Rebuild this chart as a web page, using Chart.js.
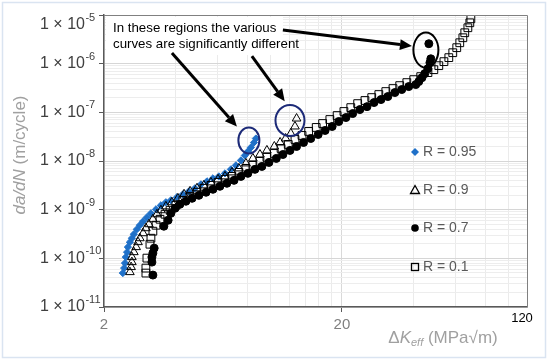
<!DOCTYPE html>
<html>
<head>
<meta charset="utf-8">
<script src="https://cdn.jsdelivr.net/npm/chart.js@4.4.1/dist/chart.umd.min.js"></script>
<style>
  body { margin: 0; background: #fff; }
  #wrap { width: 550px; height: 362px; position: relative; }
</style>
</head>
<body>
<div id="wrap"><canvas id="c"></canvas></div>
<script>
const FONT = '"Liberation Sans", Arial, sans-serif';

// series labels
const seriesNames = ["R = 0.95", "R = 0.9", "R = 0.7", "R = 0.1"];

// R = 0.95 : dK_eff (MPa√m) and da/dN (m/cycle)
const dk95 = [2.40,2.43,2.45,2.47,2.50,2.52,2.57,2.62,2.67,2.75,2.83,2.92,3.03,3.15,3.31,3.47,3.64,3.82,4.05,4.29,4.55,4.82,5.11,5.42,5.74,6.08,6.45,6.83,7.17,7.53,7.82,8.05,8.29,8.54,8.70];
const da95 = [4.98e-11,6.3e-11,7.98e-11,1.06e-10,1.34e-10,1.70e-10,2.15e-10,2.59e-10,3.13e-10,3.96e-10,4.79e-10,5.78e-10,6.98e-10,8.43e-10,1.02e-9,1.23e-9,1.42e-9,1.56e-9,1.80e-9,2.07e-9,2.38e-9,2.75e-9,3.31e-9,3.82e-9,4.40e-9,4.83e-9,5.57e-9,6.73e-9,8.13e-9,1.03e-8,1.30e-8,1.57e-8,1.90e-8,2.40e-8,2.90e-8];

// R = 0.9
const dk90 = [2.57,2.60,2.62,2.62,2.67,2.73,2.78,2.83,2.92,3.00,3.09,3.21,3.34,3.47,3.64,3.86,4.09,4.34,4.60,4.92,5.26,5.63,6.03,6.45,6.90,7.38,7.90,8.45,9.05,9.68,10.4,11.0,11.6,12.2,12.7,12.9];
const da90 = [5.21e-11,6.61e-11,8.36e-11,1.06e-10,1.34e-10,1.70e-10,2.15e-10,2.59e-10,3.28e-10,4.16e-10,5.02e-10,6.35e-10,8.05e-10,9.73e-10,1.17e-9,1.42e-9,1.71e-9,2.07e-9,2.38e-9,2.75e-9,3.16e-9,3.64e-9,4.20e-9,4.83e-9,5.83e-9,7.05e-9,8.93e-9,1.13e-8,1.36e-8,1.65e-8,1.99e-8,2.40e-8,2.90e-8,3.68e-8,5.12e-8,7.46e-8];

// R = 0.7
const dk70 = [3.21,3.18,3.18,3.21,3.25,3.57,3.72,3.82,3.98,4.17,4.42,4.69,5.01,5.37,5.74,6.14,6.57,7.04,7.53,8.05,8.62,9.22,9.87,10.6,11.3,12.1,12.9,13.8,14.8,15.9,17.0,18.2,19.4,20.8,22.2,23.8,25.5,27.3,29.2,31.2,33.4,35.7,38.2,40.9,42.1,43.4,44.6,46.0,46.9,47.3,46.4];
const da70 = [4.53e-11,8.36e-11,1.06e-10,1.28e-10,1.62e-10,4.57e-10,6.07e-10,8.43e-10,1.07e-9,1.29e-9,1.49e-9,1.71e-9,1.97e-9,2.28e-9,2.62e-9,3.02e-9,3.48e-9,4.00e-9,4.83e-9,5.57e-9,6.73e-9,7.74e-9,9.35e-9,1.13e-8,1.36e-8,1.65e-8,1.99e-8,2.40e-8,2.90e-8,3.51e-8,4.24e-8,5.12e-8,6.47e-8,7.81e-8,9.43e-8,1.14e-7,1.31e-7,1.59e-7,1.83e-7,2.11e-7,2.55e-7,2.94e-7,3.38e-7,3.72e-7,4.28e-7,5.16e-7,6.24e-7,7.91e-7,1.05e-6,1.26e-6,2.57e-6];

// R = 0.1
const dk10 = [3.00,3.00,3.03,3.12,3.15,3.21,3.31,3.44,3.61,3.79,4.01,4.29,4.60,4.92,5.26,5.63,6.03,6.45,6.90,7.38,7.90,8.45,9.05,9.68,10.4,11.1,11.9,12.7,13.6,14.5,15.6,16.6,17.8,19.1,20.4,21.8,23.3,25.0,26.7,28.6,30.6,32.8,35.0,37.5,40.1,42.9,46.0,48.7,51.1,53.7,56.3,58.5,60.8,62.6,64.5,65.7,67.7,69.0,69.7];
const da10 = [4.98e-11,6.3e-11,1.01e-10,1.95e-10,2.59e-10,3.61e-10,4.79e-10,6.35e-10,8.05e-10,9.73e-10,1.23e-9,1.56e-9,1.88e-9,2.28e-9,2.75e-9,3.16e-9,3.64e-9,4.20e-9,4.83e-9,5.83e-9,7.05e-9,8.13e-9,9.82e-9,1.19e-8,1.43e-8,1.81e-8,2.19e-8,2.77e-8,3.35e-8,4.05e-8,4.89e-8,5.89e-8,7.11e-8,8.59e-8,1.04e-7,1.25e-7,1.51e-7,1.75e-7,2.01e-7,2.32e-7,2.67e-7,3.08e-7,3.54e-7,4.08e-7,4.70e-7,5.42e-7,6.55e-7,7.53e-7,9.10e-7,1.10e-6,1.33e-6,1.68e-6,2.13e-6,2.69e-6,3.41e-6,4.32e-6,5.47e-6,6.92e-6,8.36e-6];

// axes
const xLabels = [2, 20, 120];
const xGrid = [2,4,6,8,10,12,14,16,18,20,40,60,80,100,120];
const yExponents = [-11,-10,-9,-8,-7,-6,-5];
const yGrid = [];
yExponents.forEach(e => {
  if (e === -5) { yGrid.push(1e-5); return; }
  for (let m = 1; m < 10; m++) yGrid.push(m * Math.pow(10, e));
});

// annotation placement (data coords of ellipse centres / arrow ends)
const noteLines = ["In these regions the various", "curves are significantly different"];
const rings = [
  { x: 8.13, y: 2.65e-8, rx: 10.5, ry: 13, color: '#1c2a78' },
  { x: 12.1, y: 6.8e-8, rx: 14.5, ry: 15.5, color: '#1c2a78' },
  { x: 45.1, y: 1.9e-6, rx: 12.5, ry: 17.5, color: '#000' }
];
const arrows = [
  { x1: 3.86, y1: 1.65e-6, x2: 7.24, y2: 5.1e-8 },
  { x1: 8.37, y1: 1.43e-6, x2: 11.5, y2: 1.69e-7 },
  { x1: 11.3, y1: 4.9e-6, x2: 39.4, y2: 2.3e-6 }
];

const isDecade = v => { const l = Math.log10(v); return Math.abs(l - Math.round(l)) < 1e-6; };
const pts = (xs, ys) => xs.map((v, i) => ({ x: v, y: ys[i] }));

function drawParts(ctx, parts, cx, cy) {
  let total = 0;
  parts.forEach(p => { ctx.font = p.font; p.w = ctx.measureText(p.t).width; total += p.w; });
  let x = cx - total / 2;
  ctx.textAlign = 'left';
  ctx.textBaseline = 'middle';
  parts.forEach(p => { ctx.font = p.font; ctx.fillText(p.t, x, cy + (p.dy || 0)); x += p.w; });
}

function arrow(ctx, x1, y1, x2, y2) {
  const a = Math.atan2(y2 - y1, x2 - x1);
  const hl = 12, hw = 5.5;
  const bx = x2 - hl * Math.cos(a), by = y2 - hl * Math.sin(a);
  ctx.lineWidth = 3;
  ctx.beginPath(); ctx.moveTo(x1, y1); ctx.lineTo(bx, by); ctx.stroke();
  ctx.beginPath();
  ctx.moveTo(x2, y2);
  ctx.lineTo(bx + hw * Math.sin(a), by - hw * Math.cos(a));
  ctx.lineTo(bx - hw * Math.sin(a), by + hw * Math.cos(a));
  ctx.closePath(); ctx.fill();
}

const decor = {
  id: 'decor',
  afterDraw(chart) {
    const { ctx, chartArea: a, scales: { x, y } } = chart;
    ctx.save();

    // outer frame
    ctx.strokeStyle = '#dae4f1'; ctx.lineWidth = 1.5;
    ctx.strokeRect(2.5, 2.5, 543, 355);

    // top / right edge of the plot
    ctx.strokeStyle = '#808080'; ctx.lineWidth = 1;
    ctx.beginPath();
    ctx.moveTo(a.left, a.top + 0.5); ctx.lineTo(a.right + 0.5, a.top + 0.5); ctx.lineTo(a.right + 0.5, a.bottom);
    ctx.stroke();

    // y tick labels
    ctx.fillStyle = '#404040'; ctx.textAlign = 'left'; ctx.textBaseline = 'middle';
    yExponents.forEach(e => {
      let py = y.getPixelForValue(Math.pow(10, e));
      py = Math.max(py, a.top + 10);
      ctx.font = '16px ' + FONT;
      ctx.fillText('1 × 10', 40, py);
      const w = ctx.measureText('1 × 10').width;
      ctx.font = '11px ' + FONT;
      ctx.fillText(String(e), 40 + w + 0.5, py - 7);
    });

    // x tick labels
    ctx.textAlign = 'center';
    xLabels.forEach(v => {
      const px = x.getPixelForValue(v);
      if (v === 120) {
        ctx.fillStyle = '#000'; ctx.font = '13px ' + FONT;
        ctx.fillText(String(v), px - 5, a.bottom + 11);
      } else {
        ctx.fillStyle = '#7f7f7f'; ctx.font = '15px ' + FONT;
        ctx.fillText(String(v), px, a.bottom + 18);
      }
    });

    // axis titles
    ctx.fillStyle = '#a0a0a0';
    drawParts(ctx, [
      { t: 'Δ', font: '17px ' + FONT },
      { t: 'K', font: 'italic 17px ' + FONT },
      { t: 'eff', font: 'italic 11px ' + FONT, dy: 5 },
      { t: ' (MPa√m)', font: '17px ' + FONT }
    ], 443, 338);
    ctx.save();
    ctx.translate(20, 155); ctx.rotate(-Math.PI / 2);
    drawParts(ctx, [
      { t: 'da/dN', font: 'italic 17px ' + FONT },
      { t: ' (m/cycle)', font: '17px ' + FONT }
    ], 0, 0);
    ctx.restore();

    // legend inside plot
    const lx = a.left + 311, ly = [152, 190, 228, 267];
    seriesNames.forEach((name, i) => {
      const cy = ly[i];
      ctx.fillStyle = '#000'; ctx.strokeStyle = '#000'; ctx.lineWidth = 1;
      ctx.beginPath();
      if (i === 0) {
        ctx.fillStyle = '#1f70c8';
        ctx.moveTo(lx, cy - 4); ctx.lineTo(lx + 4, cy); ctx.lineTo(lx, cy + 4); ctx.lineTo(lx - 4, cy); ctx.closePath(); ctx.fill();
      } else if (i === 1) {
        ctx.moveTo(lx, cy - 4.5); ctx.lineTo(lx + 4.5, cy + 3.5); ctx.lineTo(lx - 4.5, cy + 3.5); ctx.closePath(); ctx.lineWidth = 1.3; ctx.stroke();
      } else if (i === 2) {
        ctx.arc(lx, cy, 3.8, 0, Math.PI * 2); ctx.fill();
      } else {
        ctx.lineWidth = 1.3; ctx.strokeRect(lx - 3.5, cy - 3.5, 7, 7);
      }
      ctx.fillStyle = '#595959'; ctx.font = '14px ' + FONT; ctx.textAlign = 'left'; ctx.textBaseline = 'middle';
      ctx.fillText(name, lx + 8, cy);
    });

    // note box
    ctx.fillStyle = '#fff';
    ctx.fillRect(a.left + 2, a.top + 2, 177, 38);
    ctx.fillStyle = '#000'; ctx.font = '13.3px ' + FONT; ctx.textAlign = 'left'; ctx.textBaseline = 'middle';
    noteLines.forEach((t, i) => ctx.fillText(t, a.left + 9, a.top + 13 + i * 16));

    // arrows
    ctx.strokeStyle = '#000'; ctx.fillStyle = '#000';
    arrows.forEach(r => arrow(ctx, x.getPixelForValue(r.x1), y.getPixelForValue(r.y1), x.getPixelForValue(r.x2), y.getPixelForValue(r.y2)));

    // rings
    ctx.lineWidth = 2;
    rings.forEach(r => {
      ctx.strokeStyle = r.color;
      ctx.beginPath();
      ctx.ellipse(x.getPixelForValue(r.x), y.getPixelForValue(r.y), r.rx, r.ry, 0, 0, Math.PI * 2);
      ctx.stroke();
    });

    ctx.restore();
  }
};

new Chart(document.getElementById('c'), {
  type: 'scatter',
  data: {
    datasets: [
      { label: seriesNames[0], data: pts(dk95, da95), pointStyle: 'rectRot', pointRadius: 3.6,
        backgroundColor: '#1f70c8', borderColor: '#1f70c8', borderWidth: 1, order: 4 },
      { label: seriesNames[1], data: pts(dk90, da90), pointStyle: 'triangle', pointRadius: 5,
        backgroundColor: 'rgba(0,0,0,0)', borderColor: '#000', borderWidth: 1, order: 3 },
      { label: seriesNames[2], data: pts(dk70, da70), pointStyle: 'circle', pointRadius: 4,
        backgroundColor: '#000', borderColor: '#000', borderWidth: 1, order: 2 },
      { label: seriesNames[3], data: pts(dk10, da10), pointStyle: 'rect', pointRadius: 5.5,
        backgroundColor: 'rgba(0,0,0,0)', borderColor: '#000', borderWidth: 1, order: 1 }
    ]
  },
  options: {
    responsive: true,
    maintainAspectRatio: false,
    animation: false,
    events: [],
    layout: { padding: { top: 15, right: 23, left: 0, bottom: 0 } },
    plugins: { legend: { display: false }, tooltip: { enabled: false } },
    scales: {
      x: {
        type: 'logarithmic', min: 2, max: 120,
        afterBuildTicks: s => { s.ticks = xGrid.map(v => ({ value: v })); },
        afterFit: s => { s.height = 55; },
        ticks: { display: false },
        grid: {
          color: c => c.tick.value === 120 ? 'rgba(0,0,0,0)' : (c.tick.value === 20 ? '#d9d9d9' : '#ebebeb'),
          tickColor: c => (c.tick.value === 2 || c.tick.value === 20) ? '#595959' : 'rgba(0,0,0,0)',
          tickLength: 5
        },
        border: { color: '#595959', width: 1.5 }
      },
      y: {
        type: 'logarithmic', min: 1e-11, max: 1e-5,
        afterBuildTicks: s => { s.ticks = yGrid.map(v => ({ value: v })); },
        afterFit: s => { s.width = 104; },
        ticks: { display: false },
        grid: {
          color: c => isDecade(c.tick.value) ? '#d6d6d6' : '#ededed',
          tickColor: c => isDecade(c.tick.value) ? '#595959' : 'rgba(0,0,0,0)',
          tickLength: 5
        },
        border: { color: '#595959', width: 1.5 }
      }
    }
  },
  plugins: [decor]
});
</script>
</body>
</html>
